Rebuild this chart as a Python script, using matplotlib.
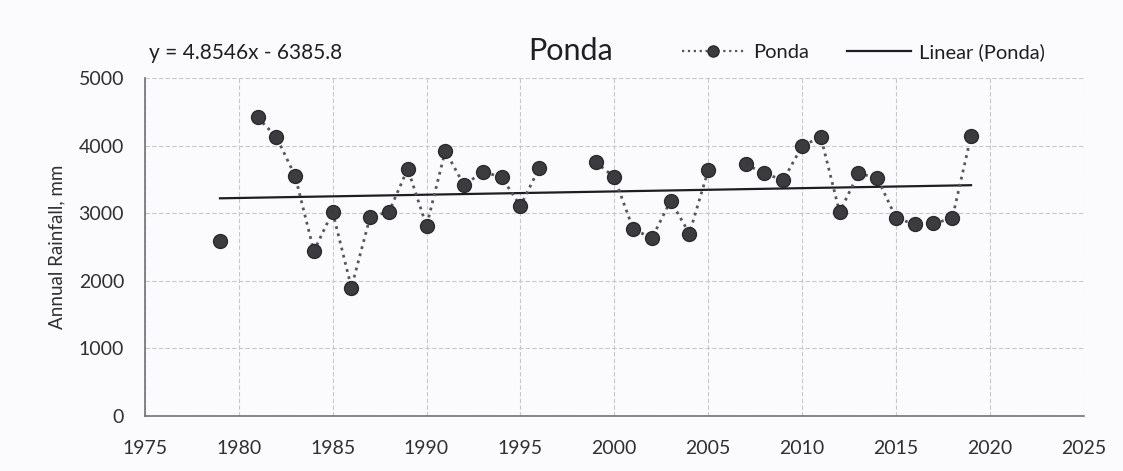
import numpy as np
import matplotlib
matplotlib.use("Agg")
import matplotlib.pyplot as plt
from matplotlib.lines import Line2D

plt.rcParams['font.family'] = ['Lato', 'DejaVu Sans']

years = [1979, 1980, 1981, 1982, 1983, 1984, 1985, 1986, 1987, 1988, 1989,
         1990, 1991, 1992, 1993, 1994, 1995, 1996, 1997, 1998, 1999, 2000,
         2001, 2002, 2003, 2004, 2005, 2006, 2007, 2008, 2009, 2010, 2011,
         2012, 2013, 2014, 2015, 2016, 2017, 2018, 2019]
rainfall = [2590, np.nan, 4420, 4130, 3555, 2440, 3020, 1900, 2950, 3020, 3660,
            2810, 3925, 3415, 3615, 3535, 3105, 3670, np.nan, np.nan, 3760, 3535,
            2770, 2630, 3185, 2700, 3635, np.nan, 3725, 3590, 3490, 3995, 4130,
            3015, 3590, 3525, 2935, 2835, 2850, 2925, 4145]
trend_slope = 4.8546
trend_intercept = -6385.8
title = "Ponda"
ylabel = "Annual Rainfall, mm"
equation = "y = 4.8546x - 6385.8"

fig = plt.figure(figsize=(11.23, 4.71), dpi=100)
fig.patch.set_facecolor('#fbfbfd')
ax = fig.add_axes([0.129, 0.117, 0.836, 0.717])
ax.set_facecolor('#fbfbfd')

mk = '#3c3c40'
ax.plot(years, rainfall, linestyle=':', color='#55555c', linewidth=2,
        marker='o', markersize=10, markerfacecolor=mk, markeredgecolor='#2a2a2e',
        markeredgewidth=1, zorder=3)

x0, x1 = years[0], years[-1]
tx = np.array([x0, x1])
ax.plot(tx, trend_slope * tx + trend_intercept, color='#1e1e22', linewidth=1.6, zorder=2)

ax.set_xlim(1975, 2025)
ax.set_ylim(0, 5000)
ax.set_xticks(range(1975, 2026, 5))
ax.set_yticks(range(0, 5001, 1000))
ax.grid(True, color='#c8c8cc', linestyle=(0, (4, 2)), linewidth=0.8)
ax.set_axisbelow(True)
for s in ['top', 'right']:
    ax.spines[s].set_visible(False)
for s in ['left', 'bottom']:
    ax.spines[s].set_color('#707078')
    ax.spines[s].set_linewidth(1.2)
ax.tick_params(length=0, labelsize=14, colors='#303034')
ax.tick_params(axis='x', pad=17)
ax.tick_params(axis='y', pad=15)
ax.set_ylabel(ylabel, fontsize=13.5, color='#303034')
ax.yaxis.set_label_coords(-0.085, 0.5)

fig.text(0.508, 0.892, title, fontsize=22, color='#202024', ha='center', va='center')
fig.text(0.133, 0.887, equation, fontsize=15, color='#202024', ha='left', va='center')

handles = [
    Line2D([], [], linestyle=':', color='#55555c', linewidth=1.6, marker='o', markersize=8,
           markerfacecolor=mk, markeredgecolor='#2a2a2e'),
    Line2D([], [], color='#1e1e22', linewidth=1.6),
]
fig.legend(handles, ['Ponda', 'Linear (Ponda)'], loc='center left', bbox_to_anchor=(0.607, 0.889),
           ncol=2, frameon=False, fontsize=14.5, handlelength=3.15, columnspacing=1.9,
           handletextpad=0.4, labelcolor='#202024', borderaxespad=0, borderpad=0)

fig.savefig('out.png', dpi=100, facecolor=fig.get_facecolor())
